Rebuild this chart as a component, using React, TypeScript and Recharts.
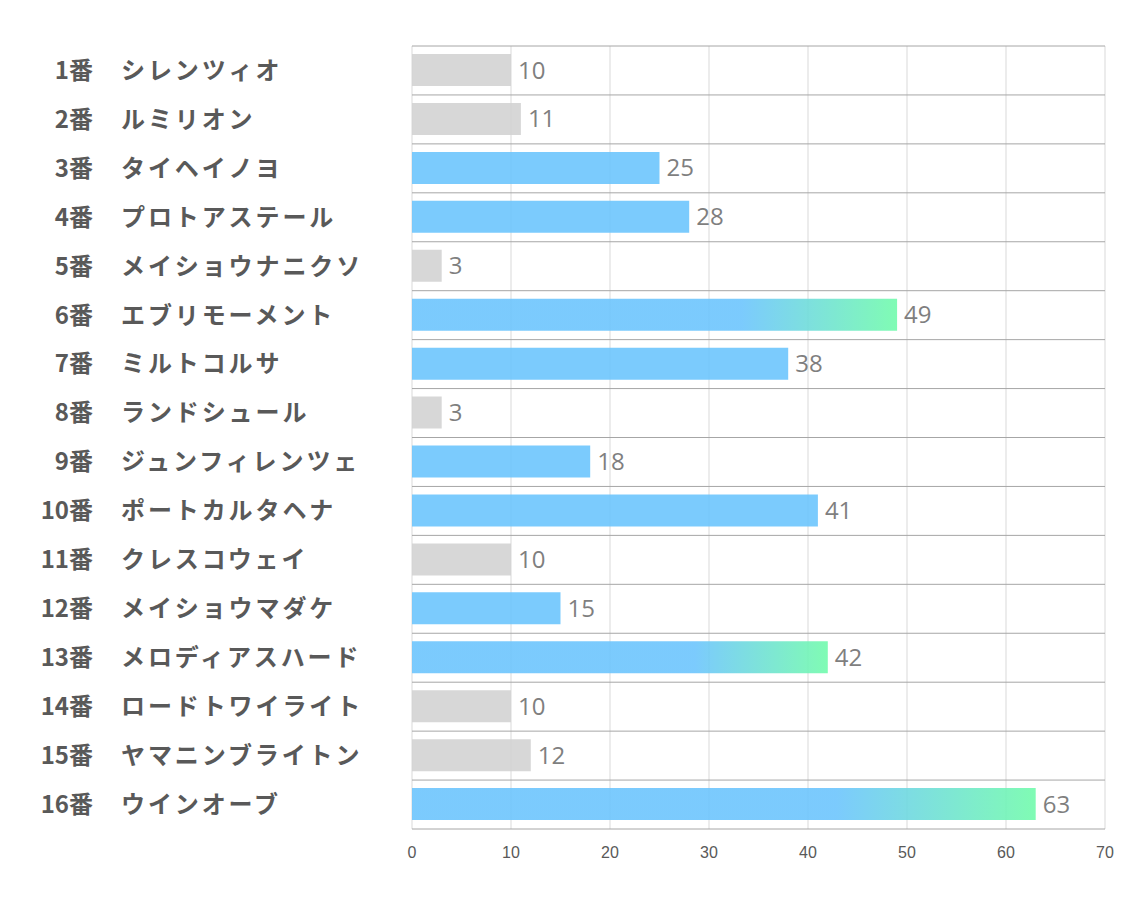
import React from "react";
import { BarChart, Bar, XAxis, YAxis, CartesianGrid, Cell, LabelList } from "recharts";

const horseNumbers = [1, 2, 3, 4, 5, 6, 7, 8, 9, 10, 11, 12, 13, 14, 15, 16];
const horseNames = [
  "シレンツィオ",
  "ルミリオン",
  "タイヘイノヨ",
  "プロトアステール",
  "メイショウナニクソ",
  "エブリモーメント",
  "ミルトコルサ",
  "ランドシュール",
  "ジュンフィレンツェ",
  "ポートカルタヘナ",
  "クレスコウェイ",
  "メイショウマダケ",
  "メロディアスハード",
  "ロードトワイライト",
  "ヤマニンブライトン",
  "ウインオーブ",
];
const scores = [10, 11, 25, 28, 3, 49, 38, 3, 18, 41, 10, 15, 42, 10, 12, 63];
const xTicks = [0, 10, 20, 30, 40, 50, 60, 70];

const data = horseNames.map((name, i) => ({
  key: `${horseNumbers[i]}番`,
  num: horseNumbers[i],
  name,
  score: scores[i],
}));

// rank of each horse by score (0 = best)
const sorted = [...scores].sort((a, b) => b - a);
const rankOf = (v: number) => sorted.indexOf(v);

const barFill = (v: number) => {
  const r = rankOf(v);
  if (r < 3) return "url(#topGrad)";
  if (r < 9) return "#6dc5fd";
  return "#d3d3d3";
};

const labelFont = "'Noto Sans CJK JP', 'Noto Sans', sans-serif";

const HorseTick = (props: any) => {
  const { y, payload } = props;
  const row = data.find((d) => d.key === payload.value);
  return (
    <g>
      <text x={85} y={y} dy="0.35em" textAnchor="end" fontFamily={labelFont} fontWeight="bold" fontSize={24} fill="#595959">
        {payload.value}
      </text>
      <text
        x={113}
        y={y}
        dy="0.35em"
        textAnchor="start"
        fontFamily={labelFont}
        fontWeight="bold"
        fontSize={24}
        letterSpacing={2.9}
        fill="#595959"
      >
        {row ? row.name : ""}
      </text>
    </g>
  );
};

const App: React.FC = () => {
  return (
    <div style={{ width: 1120, height: 890 }}>
      <BarChart
        width={1120}
        height={890}
        data={data}
        layout="vertical"
        margin={{ top: 38, right: 23, bottom: 39, left: 0 }}
      >
        <defs>
          <linearGradient id="topGrad" x1="0" y1="0" x2="1" y2="0">
            <stop offset="0%" stopColor="#6dc5fd" />
            <stop offset="68%" stopColor="#6dc5fd" />
            <stop offset="100%" stopColor="#72fbac" />
          </linearGradient>
        </defs>
        <CartesianGrid horizontal={false} stroke="#d9d9d9" />
        <CartesianGrid
          vertical={false}
          stroke="#a6a6a6"
          horizontalCoordinatesGenerator={({ offset }: any) =>
            Array.from({ length: data.length + 1 }, (_, i) => offset.top + (i * offset.height) / data.length)
          }
        />
        <XAxis
          type="number"
          domain={[0, 70]}
          ticks={xTicks}
          axisLine={false}
          tickLine={false}
          height={30}
          tickMargin={12}
          tick={{ fill: "#595959", fontSize: 16, fontFamily: "'Liberation Sans Narrow', 'Liberation Sans', sans-serif" }}
        />
        <YAxis type="category" dataKey="key" width={404} axisLine={false} tickLine={false} tick={<HorseTick />} interval={0} />
        <Bar dataKey="score" barSize={32} fillOpacity={0.9} isAnimationActive={false}>
          {data.map((d) => (
            <Cell key={d.key} fill={barFill(d.score)} />
          ))}
          <LabelList
            dataKey="score"
            position="right"
            offset={7}
            fill="#7f7f7f"
            fontSize={24}
            fontFamily="'Open Sans', 'Noto Sans', sans-serif"
          />
        </Bar>
      </BarChart>
    </div>
  );
};

export default App;
